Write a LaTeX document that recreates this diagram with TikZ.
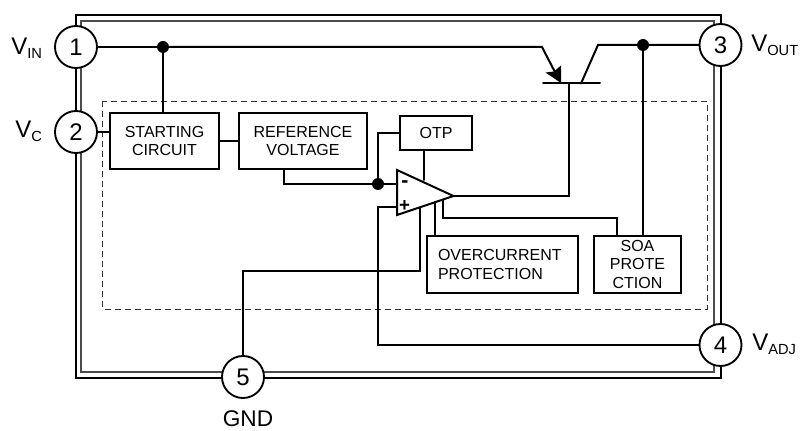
\documentclass[tikz,border=0pt]{standalone}
\usepackage{fontspec}
\setmainfont{Liberation Sans}
\tikzset{
  wire/.style={line width=1.5pt,line cap=round,line join=miter},
  pin/.style={circle,draw=black,fill=white,line width=1.4pt,minimum size=31.5pt,inner sep=0pt,font=\fontsize{18}{20}\selectfont},
  blockbox/.style={draw=black,fill=white,line width=1.4pt,inner sep=0pt,align=center,font=\fontsize{12}{14}\selectfont},
  dot/.style={circle,fill=black,minimum size=9pt,inner sep=0pt},
  sigtext/.style={inner sep=0pt,font=\fontsize{18}{20}\selectfont}
}
\newcommand{\sigV}[1]{V\raisebox{-2.8pt}{\fontsize{11}{13}\selectfont #1}}
\begin{document}
\begin{tikzpicture}[x=0.75pt,y=-0.75pt]
\useasboundingbox (0,0) rectangle (801,431);
% package outline
\draw[line width=1.3pt] (76,15) rectangle (721,378);
\draw[line width=1pt,black!70] (81,21) rectangle (714,372);
% dashed die area
\draw[line width=0.7pt,dash pattern=on 4.5pt off 3pt,black!80] (102,101.5) rectangle (707,309);
% pins
\node[pin] (p1) at (76,47) {1};
\node[pin] (p2) at (76,132) {2};
\node[pin] (p3) at (720.5,45) {3};
\node[pin] (p4) at (720.5,345) {4};
\node[pin] (p5) at (243,377) {5};
\node[sigtext,anchor=west] (l1) at (11,48) {\sigV{IN}};
\node[sigtext,anchor=west] (l2) at (15,131) {\sigV{C}};
\node[sigtext,anchor=west] (l3) at (751,45) {\sigV{OUT}};
\node[sigtext,anchor=west] (l4) at (752,344) {\sigV{ADJ}};
\node[sigtext,font=\fontsize{17}{20}\selectfont] (l5) at (248,419) {GND};
% blocks
\node[blockbox,minimum width=82pt,minimum height=42.5pt] (start) at (164.5,141) {STARTING\\CIRCUIT};
\node[blockbox,minimum width=95.5pt,minimum height=42.5pt] (ref) at (303,141) {REFERENCE\\VOLTAGE};
\node[blockbox,minimum width=54pt,minimum height=26pt] (otp) at (436,133) {OTP};
\node[blockbox,align=left,inner xsep=8pt,text width=97pt,minimum height=43pt] (oc) at (502.7,264.3) {OVERCURRENT\\PROTECTION};
\node[blockbox,minimum width=65pt,minimum height=43pt] (soa) at (637.5,264.3) {SOA\\PROTE\\CTION};
% op-amp
\coordinate (ampa) at (397,170);
\coordinate (ampb) at (397,215);
\coordinate (ampo) at (453.5,196);
\coordinate (ampm) at (397,184);
\coordinate (ampp) at (397,207);
\node[dot] (j3) at (378,184) {};
\node[dot] (j1) at (163,47) {};
\node[dot] (j2) at (643,45) {};
% transistor
\coordinate (bl) at (543,83.5);
\coordinate (br) at (600,83.5);
\coordinate (b) at (569,83.5);
\coordinate (e1) at (542,47);
\coordinate (e2) at (557,76);
\coordinate (c1) at (581,83.5);
\coordinate (c2) at (598,45);
\draw[wire] (bl) -- (br);
\draw[wire] (p1) -- (j1);
\draw[wire] (j1) -- (e1) -- (e2);
\fill (561,83) -- (545.5,72.5) -- (554,71.5) -- (561,65.5) -- cycle;
\draw[wire] (c1) -- (c2) -- (j2) -- (p3);
\draw[wire] (j1) -- (j1 |- start.north);
\draw[wire] (j2) -- (j2 |- soa.north);
\draw[wire] (p2) -- (p2 -| start.west);
\draw[wire] (start.east) -- (ref.west);
\coordinate (rr) at (283.5,169);
\draw[wire] (rr) |- (j3);
\draw[wire] (j3) -- (ampm);
\draw[wire] (j3) |- (otp.west);
\coordinate (otpx) at (424.3,150);
\draw[wire] (otpx) -- (424.3,180);
% output
\draw[wire] (ampo) -| (b);
\draw[wire] (443,200) |- (617,218.5) -- (617,236);
\draw[wire] (435,203) -- (435,236);
\draw[wire] (420,208) |- (243,271.5) -- (p5);
\draw[wire] (ampp) -| (378,345) -- (p4);
\draw[wire,fill=white,line join=miter] (ampa) -- (ampo) -- (ampb) -- cycle;
\node[font=\fontsize{16}{16}\selectfont\bfseries,inner sep=0pt] (minus) at (405,184) {-};
\node[font=\fontsize{14}{14}\selectfont\bfseries,inner sep=0pt] (plus) at (404.5,206.5) {+};
\end{tikzpicture}
\end{document}
